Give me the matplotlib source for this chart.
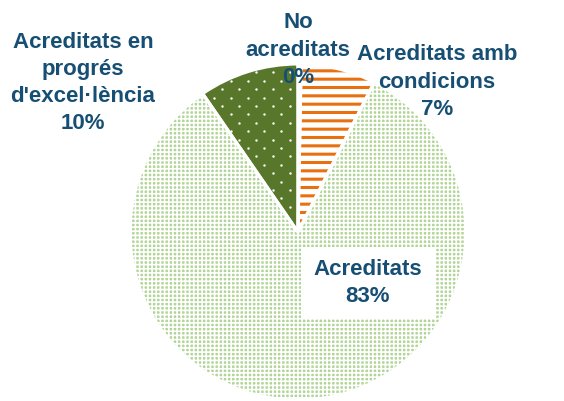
import matplotlib
matplotlib.use('Agg')
import matplotlib.pyplot as plt
import numpy as np

# data
categories = ['No acreditats', 'Acreditats amb condicions', 'Acreditats',
              "Acreditats en progrés d'excel·lència"]
values = [0.3, 7.2, 82.9, 9.6]
label_text = ['No\nacreditats', 'Acreditats amb\ncondicions', 'Acreditats',
              "Acreditats en\nprogrés\nd'excel·lència"]

faces = ['white', 'white', '#b0d596', '#58772a']
hatches = [None, '--', '++++', None]
hatch_cols = ['#e8700f', '#e8700f', 'white', 'white']
hatch_lw = [0, 2.2, 1.2, 0]

plt.rcParams['font.family'] = ['Liberation Sans', 'DejaVu Sans']

fig = plt.figure(figsize=(5.64, 4.01), dpi=100)
ax = fig.add_axes([0, 0, 1, 1])

cx, cy, r = 298, 401 - 232, 168

wedges, _ = ax.pie(values, startangle=90, counterclock=False,
                   colors=faces, center=(cx, cy), radius=r,
                   wedgeprops=dict(edgecolor='white', linewidth=0))
ax.set_xlim(0, 564)
ax.set_ylim(0, 401)
ax.set_aspect('equal')
ax.axis('off')

# hatch overlays
for w, h, hc, lw in zip(wedges, hatches, hatch_cols, hatch_lw):
    if h is None:
        continue
    with plt.rc_context({'hatch.linewidth': lw}):
        ov = matplotlib.patches.Wedge(w.center, w.r, w.theta1, w.theta2,
                                      fill=False, hatch=h, edgecolor=hc,
                                      linewidth=0)
        ax.add_patch(ov)

# white dots on the dark green slice
dw = wedges[3]
gx, gy = [], []
for k, yy in enumerate(np.arange(cy - r, cy + r, 8.4)):
    off = 0 if k % 2 == 0 else 8.4
    for xx in np.arange(cx - r + off, cx + r, 16.8):
        gx.append(xx)
        gy.append(yy)
dots = ax.scatter(gx, gy, s=3, color='white', linewidths=0, zorder=3)
dots.set_clip_path(dw)

# white borders between slices
for w in wedges:
    ax.add_patch(matplotlib.patches.Wedge(w.center, w.r, w.theta1, w.theta2,
                                          fill=False, edgecolor='white',
                                          linewidth=2.2, zorder=4))

pcts = [f'{round(v):.0f}%' for v in values]
txt_col = '#164f73'
pos = [(298, 401 - 50), (437, 401 - 82), (368, 401 - 283), (83, 401 - 83)]
for (x, y), t, p, i in zip(pos, label_text, pcts, range(4)):
    kw = {}
    if i == 2:
        kw['bbox'] = dict(facecolor='white', edgecolor='none', pad=9)
    ax.text(x, y, t + '\n' + p, ha='center', va='center', fontsize=16,
            fontweight='bold', color=txt_col, linespacing=1.38, zorder=5, **kw)

fig.savefig('out.png', dpi=100)
